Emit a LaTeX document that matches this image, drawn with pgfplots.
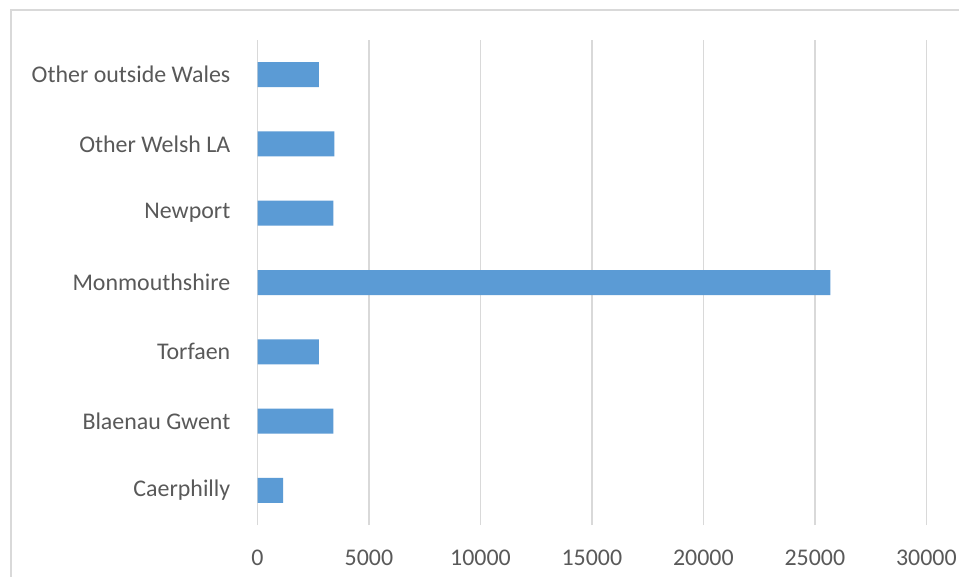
\documentclass[border=0pt]{standalone}
\usepackage{fontspec}
\setmainfont{Carlito}
\usepackage{pgfplots}
\pgfplotsset{compat=1.18}
\definecolor{barblue}{HTML}{5B9BD5}
\definecolor{gridgray}{HTML}{D9D9D9}
\definecolor{txtgray}{HTML}{595959}
\begin{document}
\begin{tikzpicture}
\useasboundingbox (0,0) rectangle (959bp,-577bp);
\fill[white] (0,0) rectangle (959bp,-577bp);
\draw[gridgray, line width=1.5bp] (11bp,-590bp) -- (11bp,-10bp) -- (970bp,-10bp);
\begin{axis}[
  at={(257.5bp,-525bp)}, anchor=south west,
  scale only axis,
  width=668.8bp, height=485bp,
  xbar, bar width=25bp,
  xmin=0, xmax=30000,
  ymin=-0.5, ymax=6.5,
  xtick={0,5000,...,30000},
  ytick={0,1,2,3,4,5,6},
  yticklabels={Caerphilly,Blaenau Gwent,Torfaen,Monmouthshire,Newport,Other Welsh LA,Other outside Wales},
  scaled x ticks=false,
  /pgf/number format/assume math mode=true,
  xticklabel={\pgfmathprintnumber[fixed,1000 sep={}]{\tick}},
  axis line style={draw=none},
  major tick length=0pt,
  xmajorgrids,
  grid style={gridgray, line width=1.5bp},
  tick label style={font=\fontsize{24}{28}\selectfont, text=txtgray},
  yticklabel style={anchor=east, inner sep=0pt, xshift=-27bp},
  xticklabel style={anchor=north, inner sep=0pt, yshift=-25bp},
]
\addplot[fill=barblue, draw=none] coordinates {
  (1150,0) (3400,1) (2750,2) (25700,3) (3400,4) (3450,5) (2750,6)
};
\end{axis}
\end{tikzpicture}
\end{document}
